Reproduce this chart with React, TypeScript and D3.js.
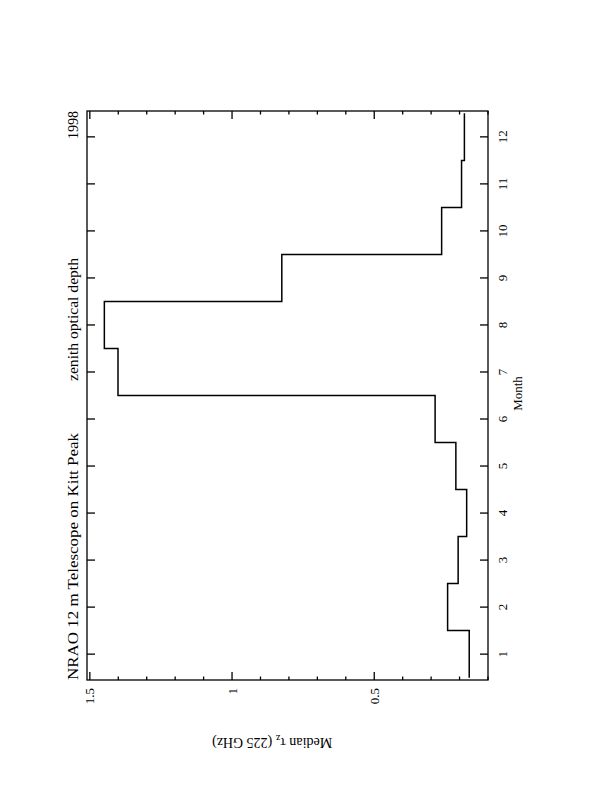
import React from "react";
import * as d3 from "d3";

const months = [1, 2, 3, 4, 5, 6, 7, 8, 9, 10, 11, 12];
const tau = [0.166, 0.242, 0.205, 0.175, 0.213, 0.286, 1.401, 1.449, 0.825, 0.263, 0.193, 0.183];
const valueTickLabels = ["0.5", "1", "1.5"];
const valueTickValues = [0.5, 1.0, 1.5];
const minorValueTicks = d3.range(1, 16).map((i) => i / 10);

const titleLeft = "NRAO 12 m Telescope on Kitt Peak";
const titleMid = "zenith optical depth";
const titleRight = "1998";
const monthLabel = "Month";

export default function App() {
  const L = 87, R = 488, T = 111, B = 680;
  const x = d3.scaleLinear().domain([1.51, 0.1]).range([L, R]);
  const y = d3.scaleLinear().domain([0.45, 12.55]).range([B, T]);

  const pts: [number, number][] = months.map((m, i) => [tau[i], m - 0.5]);
  pts.push([tau[tau.length - 1], months[months.length - 1] + 0.5]);
  const line = d3
    .line<[number, number]>()
    .x((d) => x(d[0]))
    .y((d) => y(d[1]))
    .curve(d3.curveStepBefore);

  const font = "'Liberation Serif', serif";
  const isMajor = (v: number) => valueTickValues.some((t) => Math.abs(t - v) < 1e-6);

  return (
    <svg width={612} height={792} style={{ position: "absolute", left: 0, top: 0, background: "#fff" }}>
      <rect x={0} y={0} width={612} height={792} fill="#fff" />
      <g stroke="#000" strokeWidth={1.3} fill="none">
        <rect x={L} y={T} width={R - L} height={B - T} />
        {minorValueTicks.map((v) => {
          const len = isMajor(v) ? 8 : 3.5;
          return (
            <g key={"v" + v}>
              <line x1={x(v)} x2={x(v)} y1={B} y2={B - len} />
              <line x1={x(v)} x2={x(v)} y1={T} y2={T + len} />
            </g>
          );
        })}
        {months.map((m) => (
          <g key={"m" + m}>
            <line x1={L} x2={L + 8} y1={y(m)} y2={y(m)} />
            <line x1={R} x2={R - 8} y1={y(m)} y2={y(m)} />
          </g>
        ))}
        <path d={line(pts) || ""} strokeWidth={1.5} />
      </g>

      <g fontFamily={font} fill="#000">
        {months.map((m) => (
          <text
            key={"ml" + m}
            transform={`translate(502.5,${y(m)}) rotate(-90)`}
            textAnchor="middle"
            dominantBaseline="central"
            fontSize={13}
          >
            {m}
          </text>
        ))}
        <text transform={`translate(517,${(T + B) / 2 - 2}) rotate(-90)`} textAnchor="middle" dominantBaseline="central" fontSize={13}>
          {monthLabel}
        </text>
        {valueTickValues.map((v, i) => (
          <text
            key={"vl" + v}
            transform={`translate(${x(v)},688) rotate(-90)`}
            textAnchor="end"
            dominantBaseline="central"
            fontSize={13}
          >
            {valueTickLabels[i]}
          </text>
        ))}
        <text transform={`translate(78,680) rotate(-90)`} textAnchor="start" fontSize={14} textLength={247} lengthAdjust="spacingAndGlyphs">
          {titleLeft}
        </text>
        <text transform={`translate(78,381) rotate(-90)`} textAnchor="start" fontSize={14} textLength={123} lengthAdjust="spacingAndGlyphs">
          {titleMid}
        </text>
        <text transform={`translate(78,111) rotate(-90)`} textAnchor="end" fontSize={14}>
          {titleRight}
        </text>
        <text transform={`translate(212,738) rotate(180)`} textAnchor="end" fontSize={14}>
          <tspan>Median τ</tspan>
          <tspan fontSize={10} dy={3}>z</tspan>
          <tspan dy={-3}> (225 GHz)</tspan>
        </text>
      </g>
    </svg>
  );
}
